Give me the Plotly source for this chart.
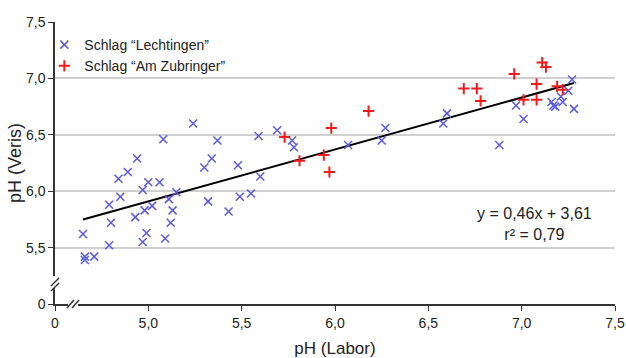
import plotly.graph_objects as go

# Schlag "Lechtingen" (blue x)
lech_x = [4.65, 4.66, 4.66, 4.71, 4.79, 4.79, 4.80, 4.84, 4.85, 4.89, 4.94, 4.93, 4.97, 4.98,
          4.97, 4.99, 5.00, 5.02, 5.06, 5.08, 5.09, 5.11, 5.12, 5.13, 5.15, 5.24, 5.30, 5.32,
          5.34, 5.37, 5.43, 5.48, 5.49, 5.55, 5.59, 5.60, 5.69, 5.77, 5.78, 6.07, 6.25, 6.27,
          6.58, 6.60, 6.88, 6.97, 7.01, 7.16, 7.17, 7.18, 7.21, 7.22, 7.25, 7.27, 7.28]
lech_y = [5.62, 5.42, 5.39, 5.42, 5.52, 5.88, 5.72, 6.11, 5.95, 6.17, 6.29, 5.77, 6.01, 5.83,
          5.55, 5.63, 6.08, 5.87, 6.08, 6.46, 5.58, 5.93, 5.72, 5.83, 5.99, 6.60, 6.21, 5.91,
          6.29, 6.45, 5.82, 6.23, 5.95, 5.98, 6.49, 6.13, 6.54, 6.45, 6.39, 6.41, 6.45, 6.56,
          6.60, 6.69, 6.41, 6.76, 6.64, 6.79, 6.76, 6.75, 6.84, 6.79, 6.89, 6.99, 6.73]

# Schlag "Am Zubringer" (red +)
zub_x = [5.73, 5.81, 5.94, 5.97, 5.98, 6.18, 6.69, 6.76, 6.78, 6.96, 7.01, 7.08, 7.08,
         7.11, 7.13, 7.19, 7.22]
zub_y = [6.48, 6.27, 6.32, 6.17, 6.56, 6.71, 6.91, 6.91, 6.80, 7.04, 6.81, 6.81, 6.95,
         7.14, 7.10, 6.93, 6.90]

slope, intercept = 0.46, 3.61
fit_x = [4.65, 7.28]
fit_y = [slope * v + intercept for v in fit_x]

x_tickvals = [4.5, 5.0, 5.5, 6.0, 6.5, 7.0, 7.5]
x_ticktext = ["0", "5,0", "5,5", "6,0", "6,5", "7,0", "7,5"]
y_tickvals = [5.0, 5.5, 6.0, 6.5, 7.0, 7.5]
y_ticktext = ["0", "5,5", "6,0", "6,5", "7,0", "7,5"]

FONT = "Liberation Sans, Arial, sans-serif"

fig = go.Figure()
fig.add_trace(go.Scatter(
    x=fit_x, y=fit_y, mode="lines", line=dict(color="black", width=2),
    showlegend=False, hoverinfo="skip"))
fig.add_trace(go.Scatter(
    x=lech_x, y=lech_y, mode="markers", name="Schlag “Lechtingen”",
    marker=dict(symbol="x-thin", size=8, color="#5a5ae0",
                line=dict(color="#5a5ae0", width=1.5))))
fig.add_trace(go.Scatter(
    x=zub_x, y=zub_y, mode="markers", name="Schlag “Am Zubringer”",
    marker=dict(symbol="cross-thin", size=8, color="#ee1c1c",
                line=dict(color="#ee1c1c", width=2))))

# axis break marks
shapes = []
px_x = 1.0 / 560
px_y = 1.0 / 282
shapes.append(dict(type="rect", xref="paper", yref="paper",
                   x0=-3 * px_x, x1=3 * px_x, y0=16 * px_y, y1=28 * px_y,
                   fillcolor="white", line=dict(width=0), layer="above"))
for off in (0, 5):
    shapes.append(dict(type="line", xref="paper", yref="paper",
                       x0=-4 * px_x, x1=4 * px_x,
                       y0=(13 + off) * px_y, y1=(21 + off) * px_y,
                       line=dict(color="#333333", width=1.5), layer="above"))
shapes.append(dict(type="rect", xref="paper", yref="paper",
                   x0=13 * px_x, x1=23 * px_x, y0=-3 * px_y, y1=3 * px_y,
                   fillcolor="white", line=dict(width=0), layer="above"))
for off in (0, 5):
    shapes.append(dict(type="line", xref="paper", yref="paper",
                       x0=(12 + off) * px_x, x1=(19 + off) * px_x,
                       y0=-4 * px_y, y1=4 * px_y,
                       line=dict(color="#333333", width=1.5), layer="above"))

fig.update_layout(
    width=626, height=358,
    margin=dict(l=55, r=11, t=22, b=54),
    paper_bgcolor="white", plot_bgcolor="white",
    font=dict(family=FONT, color="#222222", size=14),
    showlegend=True,
    legend=dict(x=-0.019, y=0.975, xanchor="left", yanchor="top",
                bgcolor="rgba(0,0,0,0)", font=dict(size=14, family=FONT),
                itemwidth=30, tracegroupgap=0),
    xaxis=dict(range=[4.5, 7.5], tickvals=x_tickvals, ticktext=x_ticktext,
               showgrid=False, zeroline=False, showline=True, automargin=False,
               linecolor="#333333", linewidth=1.5,
               ticks="outside", ticklen=5, tickcolor="#333333",
               tickfont=dict(size=14, family=FONT), ticklabeloverflow="allow",
               title=dict(text="pH (Labor)", font=dict(size=17, family=FONT), standoff=14)),
    yaxis=dict(range=[5.0, 7.5], tickvals=y_tickvals, ticktext=y_ticktext,
               showgrid=True, gridcolor="#d0d0d0", gridwidth=1.5,
               zeroline=False, showline=True, automargin=False,
               linecolor="#333333", linewidth=1.5,
               ticks="outside", ticklen=5, tickcolor="#333333",
               tickfont=dict(size=14, family=FONT),
               title=dict(text="pH (Veris)", font=dict(size=18, family=FONT), standoff=0)),
    shapes=shapes,
    annotations=[dict(x=7.07, y=5.71, xref="x", yref="y",
                      text="y = 0,46x + 3,61<br>r² = 0,79", showarrow=False,
                      align="center", font=dict(size=16, family=FONT, color="#222222"))],
)

fig.write_html("out.html", config={"displayModeBar": False},
               post_script="document.body.style.margin='0';document.body.style.overflow='hidden';")
